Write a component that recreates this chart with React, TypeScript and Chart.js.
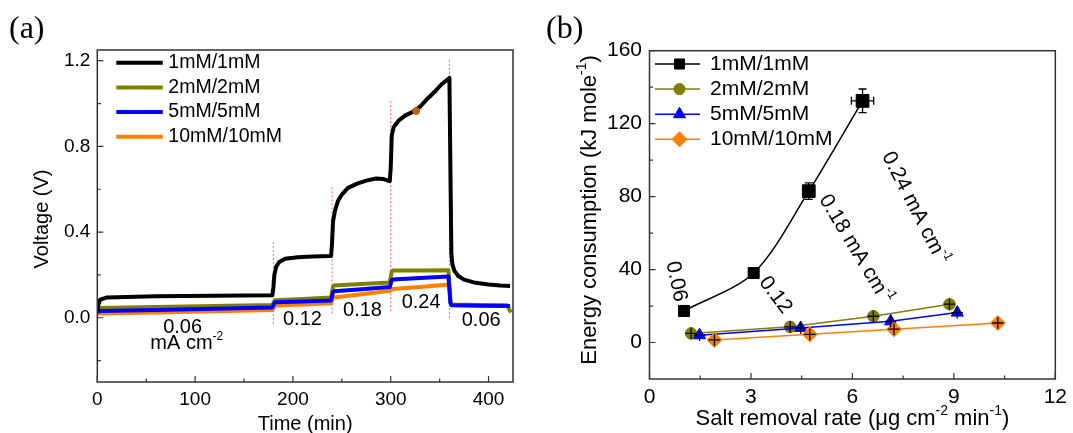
import React, { useEffect, useRef } from 'react';
import { Chart, registerables } from 'chart.js';

Chart.register(...registerables);

const SANS = "'Liberation Sans', Arial, Helvetica, sans-serif";
const SERIF = "'Liberation Serif', 'Times New Roman', Times, serif";

// ---------------- Panel (a): voltage vs time ----------------
const seriesLabels = ['1mM/1mM', '2mM/2mM', '5mM/5mM', '10mM/10mM'];

const timeBlack = [0, 1, 3, 10, 60, 120, 179, 180, 181, 183, 186, 192, 205, 220, 239, 240, 241, 243, 246, 250, 256, 265, 275, 285, 292, 299, 300, 301, 303, 308, 315, 322, 330, 338, 346, 352, 359, 360, 361, 362, 363, 365, 369, 375, 385, 400, 412, 422];
const voltBlack = [0.03, 0.06, 0.085, 0.095, 0.1, 0.103, 0.105, 0.14, 0.2, 0.24, 0.26, 0.275, 0.282, 0.286, 0.288, 0.35, 0.45, 0.5, 0.545, 0.575, 0.605, 0.625, 0.64, 0.65, 0.648, 0.638, 0.7, 0.85, 0.89, 0.92, 0.945, 0.96, 0.985, 1.025, 1.06, 1.09, 1.115, 1.12, 0.7, 0.3, 0.25, 0.22, 0.195, 0.178, 0.165, 0.155, 0.15, 0.148];

const timeOlive = [0, 2, 60, 120, 179, 180, 181, 182, 210, 239, 240, 241, 242, 270, 299, 300, 301, 302, 330, 359, 360, 361, 362, 390, 419, 421, 423];
const voltOlive = [0.035, 0.045, 0.05, 0.055, 0.06, 0.07, 0.078, 0.082, 0.088, 0.095, 0.12, 0.145, 0.15, 0.158, 0.165, 0.19, 0.215, 0.22, 0.221, 0.222, 0.15, 0.08, 0.062, 0.06, 0.058, 0.04, 0.025];

const timeBlue = [0, 2, 60, 120, 179, 180, 181, 182, 210, 239, 240, 241, 242, 270, 299, 300, 301, 302, 330, 359, 360, 361, 362, 390, 422];
const voltBlue = [0.025, 0.032, 0.036, 0.042, 0.048, 0.058, 0.068, 0.072, 0.076, 0.081, 0.1, 0.118, 0.124, 0.133, 0.143, 0.16, 0.175, 0.178, 0.185, 0.192, 0.13, 0.07, 0.058, 0.056, 0.055];

const timeOrange = [0, 60, 120, 179, 180, 181, 182, 210, 239, 240, 241, 242, 270, 299, 300, 301, 302, 330, 359];
const voltOrange = [0.02, 0.025, 0.03, 0.036, 0.045, 0.053, 0.057, 0.062, 0.068, 0.08, 0.09, 0.095, 0.11, 0.126, 0.129, 0.132, 0.134, 0.143, 0.155];

const guideTimes = [180, 240, 300, 360];
const guideLow = [-0.03, 0.02, 0.03, 0.0];
const guideHigh = [0.36, 0.61, 1.02, 1.21];

const dotTime = [326];
const dotVolt = [0.965];

const xTicksA = [0, 100, 200, 300, 400];
const xMinorA = [50, 150, 250, 350];
const yTicksA = [0, 0.4, 0.8, 1.2];
const yMinorA = [-0.2, 0.2, 0.6, 1.0];

const currentLabelsA = ['0.06', '0.12', '0.18', '0.24', '0.06'];
const currentTimeA = [87.2, 209.7, 271.1, 331.1, 392.5];
const currentVoltA = [-0.044, -0.007, 0.034, 0.073, -0.014];
const unitTimeA = 91.5;
const unitVoltA = -0.1215;

// ---------------- Panel (b): energy vs salt removal rate ----------------
const rate1 = [1.02, 3.08, 4.71, 6.3];
const energy1 = [17.3, 38.1, 83.0, 132.5];
const rateErr1 = [0.08, 0.08, 0.15, 0.33];
const energyErr1 = [1.5, 1.5, 4.5, 6.5];

const rate2 = [1.23, 4.16, 6.62, 8.87];
const energy2 = [5.0, 8.6, 14.4, 21.0];
const rateErr2 = [0.17, 0.17, 0.17, 0.17];
const energyErr2 = [3.2, 3.2, 3.2, 3.2];

const rate5 = [1.48, 4.47, 7.13, 9.1];
const energy5 = [4.0, 8.0, 11.6, 16.4];
const rateErr5 = [0.17, 0.17, 0.17, 0.17];
const energyErr5 = [3.2, 3.2, 3.2, 3.2];

const rate10 = [1.92, 4.74, 7.23, 10.3];
const energy10 = [1.4, 4.5, 7.3, 10.7];
const rateErr10 = [0.17, 0.17, 0.17, 0.17];
const energyErr10 = [3.2, 3.2, 3.2, 3.2];

const xTicksB = [0, 3, 6, 9, 12];
const xMinorB = [1.5, 4.5, 7.5, 10.5];
const yTicksB = [0, 40, 80, 120, 160];
const yMinorB = [20, 60, 100, 140];

const densityLabelsB = ['0.06', '0.12', '0.18 mA cm', '0.24 mA cm'];
const densitySupB = ['', '', '-1', '-1'];
const densityRateB = [0.79, 3.72, 6.09, 7.85];
const densityEnergyB = [33.5, 26, 51.1, 73.6];
const densityAngleB = [78, 53, 59, 63];

// ---------------- styles ----------------
const COLORS = ['#000000', '#808000', '#0000ff', '#ff8000'];
const MARKERS = ['rect', 'circle', 'triangle', 'rectRot'];
const LEGEND_RADII = [7.1, 5.6, 7, 7.5];

const pts = (xs: number[], ys: number[]) => xs.map((x, i) => ({ x, y: ys[i] }));

type Seg = { t: string; sup?: boolean };

function drawRich(ctx: CanvasRenderingContext2D, segs: Seg[], x: number, y: number, size: number, opts: { rot?: number; align?: 'left' | 'center'; family?: string } = {}) {
  const family = opts.family || SANS;
  const supSize = Math.round(size * 0.62);
  ctx.save();
  ctx.translate(x, y);
  if (opts.rot) ctx.rotate(opts.rot);
  ctx.textBaseline = 'middle';
  ctx.textAlign = 'left';
  ctx.fillStyle = '#000';
  const widths = segs.map((s) => {
    ctx.font = `${s.sup ? supSize : size}px ${family}`;
    return ctx.measureText(s.t).width;
  });
  const total = widths.reduce((a, b) => a + b, 0);
  let cx = opts.align === 'left' ? 0 : -total / 2;
  segs.forEach((s, i) => {
    ctx.font = `${s.sup ? supSize : size}px ${family}`;
    ctx.fillText(s.t, cx, s.sup ? -size * 0.36 : 0);
    cx += widths[i];
  });
  ctx.restore();
}

function drawFrame(chart: any, xMaj: number[], xMin: number[], yMaj: number[], yMin: number[]) {
  const { ctx, chartArea: a, scales } = chart;
  const x = scales.x;
  const y = scales.y;
  ctx.save();
  ctx.strokeStyle = '#333';
  ctx.lineWidth = 1.5;
  ctx.strokeRect(a.left, a.top, a.right - a.left, a.bottom - a.top);
  ctx.lineWidth = 1.2;
  ctx.beginPath();
  xMaj.forEach((v) => { const p = x.getPixelForValue(v); ctx.moveTo(p, a.bottom); ctx.lineTo(p, a.bottom - 6); });
  xMin.forEach((v) => { const p = x.getPixelForValue(v); ctx.moveTo(p, a.bottom); ctx.lineTo(p, a.bottom - 3.5); });
  yMaj.forEach((v) => { const p = y.getPixelForValue(v); ctx.moveTo(a.left, p); ctx.lineTo(a.left + 6, p); });
  yMin.forEach((v) => { const p = y.getPixelForValue(v); ctx.moveTo(a.left, p); ctx.lineTo(a.left + 3.5, p); });
  ctx.stroke();
  ctx.restore();
}

function drawMarker(ctx: CanvasRenderingContext2D, style: string, x: number, y: number, r: number, color: string) {
  ctx.save();
  ctx.fillStyle = color;
  ctx.strokeStyle = color;
  ctx.lineWidth = 1;
  ctx.beginPath();
  if (style === 'rect') {
    const s = r * Math.SQRT1_2;
    ctx.rect(x - s, y - s, 2 * s, 2 * s);
  } else if (style === 'circle') {
    ctx.arc(x, y, r, 0, Math.PI * 2);
  } else if (style === 'triangle') {
    ctx.moveTo(x, y - r);
    ctx.lineTo(x + 0.866 * r, y + 0.5 * r);
    ctx.lineTo(x - 0.866 * r, y + 0.5 * r);
  } else {
    ctx.moveTo(x - r, y);
    ctx.lineTo(x, y - r);
    ctx.lineTo(x + r, y);
    ctx.lineTo(x, y + r);
  }
  ctx.closePath();
  ctx.fill();
  ctx.stroke();
  ctx.restore();
}

const panelAPlugin = {
  id: 'panelA',
  afterDatasetsDraw(chart: any) {
    drawFrame(chart, xTicksA, xMinorA, yTicksA, yMinorA);
  },
  afterDraw(chart: any) {
    const { ctx, chartArea: a, scales } = chart;
    const x = scales.x;
    const y = scales.y;
    seriesLabels.forEach((lab, i) => {
      const ly = a.top + 12.7 + i * 24.7;
      ctx.save();
      ctx.strokeStyle = COLORS[i];
      ctx.lineWidth = 4;
      ctx.beginPath();
      ctx.moveTo(a.left + 19, ly);
      ctx.lineTo(a.left + 65.5, ly);
      ctx.stroke();
      ctx.restore();
      drawRich(ctx, [{ t: lab }], a.left + 71, ly, 19.5, { align: 'left' });
    });
    currentLabelsA.forEach((t, i) => {
      drawRich(ctx, [{ t }], x.getPixelForValue(currentTimeA[i]), y.getPixelForValue(currentVoltA[i]), 20);
    });
    drawRich(ctx, [{ t: 'mA cm' }, { t: '-2', sup: true }], x.getPixelForValue(unitTimeA), y.getPixelForValue(unitVoltA), 20);
    drawRich(ctx, [{ t: 'Voltage (V)' }], 42.5, (a.top + a.bottom) / 2 + 3, 20, { rot: -Math.PI / 2 });
    drawRich(ctx, [{ t: 'Time (min)' }], (a.left + a.right) / 2, 424, 20);
    ctx.save();
    ctx.font = `32px ${SERIF}`;
    ctx.fillStyle = '#000';
    ctx.textBaseline = 'alphabetic';
    ctx.textAlign = 'left';
    ctx.fillText('(a)', 9, 38);
    ctx.restore();
  },
};

const ratesB = [rate1, rate2, rate5, rate10];
const energiesB = [energy1, energy2, energy5, energy10];
const rateErrsB = [rateErr1, rateErr2, rateErr5, rateErr10];
const energyErrsB = [energyErr1, energyErr2, energyErr5, energyErr10];

const panelBPlugin = {
  id: 'panelB',
  afterDatasetsDraw(chart: any) {
    const { ctx, scales } = chart;
    const x = scales.x;
    const y = scales.y;
    ctx.save();
    ctx.strokeStyle = '#000';
    ctx.lineWidth = 1.3;
    ctx.beginPath();
    ratesB.forEach((xs, i) => {
      xs.forEach((xv, j) => {
        const yv = energiesB[i][j];
        const px = x.getPixelForValue(xv);
        const py = y.getPixelForValue(yv);
        const x1 = x.getPixelForValue(xv - rateErrsB[i][j]);
        const x2 = x.getPixelForValue(xv + rateErrsB[i][j]);
        const y1 = y.getPixelForValue(yv - energyErrsB[i][j]);
        const y2 = y.getPixelForValue(yv + energyErrsB[i][j]);
        ctx.moveTo(x1, py); ctx.lineTo(x2, py);
        ctx.moveTo(px, y1); ctx.lineTo(px, y2);
        if (x2 - x1 > 16) {
          ctx.moveTo(x1, py - 4); ctx.lineTo(x1, py + 4);
          ctx.moveTo(x2, py - 4); ctx.lineTo(x2, py + 4);
        }
        if (y1 - y2 > 16) {
          ctx.moveTo(px - 4, y1); ctx.lineTo(px + 4, y1);
          ctx.moveTo(px - 4, y2); ctx.lineTo(px + 4, y2);
        }
      });
    });
    ctx.stroke();
    ctx.restore();
    drawFrame(chart, xTicksB, xMinorB, yTicksB, yMinorB);
  },
  afterDraw(chart: any) {
    const { ctx, chartArea: a, scales } = chart;
    const x = scales.x;
    const y = scales.y;
    seriesLabels.forEach((lab, i) => {
      const ly = a.top + 13.3 + i * 25.1;
      ctx.save();
      ctx.strokeStyle = COLORS[i];
      ctx.lineWidth = 1.5;
      ctx.beginPath();
      ctx.moveTo(a.left + 5.5, ly);
      ctx.lineTo(a.left + 50.5, ly);
      ctx.stroke();
      ctx.restore();
      drawMarker(ctx, MARKERS[i], a.left + 30, ly, LEGEND_RADII[i], COLORS[i]);
      drawRich(ctx, [{ t: lab }], a.left + 60.5, ly, 21, { align: 'left' });
    });
    densityLabelsB.forEach((t, i) => {
      const segs: Seg[] = [{ t }];
      if (densitySupB[i]) segs.push({ t: densitySupB[i], sup: true });
      drawRich(ctx, segs, x.getPixelForValue(densityRateB[i]), y.getPixelForValue(densityEnergyB[i]), 21, { rot: (densityAngleB[i] * Math.PI) / 180 });
    });
    drawRich(ctx, [{ t: 'Energy consumption (kJ mole' }, { t: '-1', sup: true }, { t: ')' }], 50, 210, 22, { rot: -Math.PI / 2 });
    drawRich(ctx, [{ t: 'Salt removal rate (μg cm' }, { t: '-2', sup: true }, { t: ' min' }, { t: '-1', sup: true }, { t: ')' }], (a.left + a.right) / 2, 419, 22);
    ctx.save();
    ctx.font = `32px ${SERIF}`;
    ctx.fillStyle = '#000';
    ctx.textBaseline = 'alphabetic';
    ctx.textAlign = 'left';
    ctx.fillText('(b)', 6, 38);
    ctx.restore();
  },
};

function axisOpts(min: number, max: number, ticks: number[], size: number, pad: number, fmt: (v: number) => string, fit: (s: any) => void) {
  return {
    type: 'linear',
    min,
    max,
    grid: { display: false, drawTicks: false },
    border: { display: false },
    afterBuildTicks: (s: any) => { s.ticks = ticks.map((v) => ({ value: v })); },
    afterFit: fit,
    ticks: {
      padding: pad,
      maxRotation: 0,
      minRotation: 0,
      autoSkip: false,
      color: '#000',
      font: { family: SANS, size },
      callback: (v: any) => fmt(Number(v)),
    },
  };
}

function buildChartA(canvas: HTMLCanvasElement) {
  const lineDs = (label: string, xs: number[], ys: number[], color: string, order: number) => ({
    label,
    data: pts(xs, ys),
    borderColor: color,
    backgroundColor: color,
    borderWidth: 4,
    pointRadius: 0,
    tension: 0,
    borderJoinStyle: 'round',
    order,
  });
  const guidePoints = guideTimes.flatMap((t, i) => [
    { x: t, y: guideLow[i] },
    { x: t, y: guideHigh[i] },
    { x: t, y: null },
  ]);
  return new Chart(canvas, {
    type: 'line',
    data: {
      datasets: [
        lineDs(seriesLabels[0], timeBlack, voltBlack, COLORS[0], 1),
        lineDs(seriesLabels[1], timeOlive, voltOlive, COLORS[1], 4),
        lineDs(seriesLabels[2], timeBlue, voltBlue, COLORS[2], 2),
        lineDs(seriesLabels[3], timeOrange, voltOrange, COLORS[3], 3),
        {
          label: 'steps',
          data: guidePoints as any,
          borderColor: 'rgba(255,70,70,0.85)',
          borderWidth: 1,
          borderDash: [2, 2],
          pointRadius: 0,
          spanGaps: false,
          order: 5,
        },
        {
          label: 'mark',
          data: pts(dotTime, dotVolt),
          showLine: false,
          pointRadius: 3.5,
          pointBackgroundColor: '#c0620f',
          pointBorderColor: '#c0620f',
          order: 0,
        },
      ] as any,
    },
    options: {
      responsive: false,
      animation: false,
      events: [],
      layout: { padding: { left: 0, right: 27, top: 50, bottom: 0 } },
      plugins: { legend: { display: false }, tooltip: { enabled: false } },
      scales: {
        x: axisOpts(0, 425, xTicksA, 19, 6, (v) => String(v), (s: any) => { s.height = 51; }),
        y: axisOpts(-0.3, 1.25, yTicksA, 19, 7, (v) => v.toFixed(1), (s: any) => { s.width = 97.3; }),
      },
    } as any,
    plugins: [panelAPlugin],
  });
}

function buildChartB(canvas: HTMLCanvasElement) {
  const radii = [[7.8, 7.8, 9, 9], 5.8, 7, 7.5];
  const datasets = ratesB.map((xs, i) => ({
    label: seriesLabels[i],
    data: pts(xs, energiesB[i]),
    borderColor: COLORS[i],
    backgroundColor: COLORS[i],
    borderWidth: 1.5,
    pointStyle: MARKERS[i],
    pointRadius: radii[i],
    pointBackgroundColor: COLORS[i],
    pointBorderColor: COLORS[i],
    pointBorderWidth: 1,
    tension: i === 0 ? 0.3 : 0,
    order: [0, 3, 2, 1][i],
  }));
  return new Chart(canvas, {
    type: 'line',
    data: { datasets: datasets as any },
    options: {
      responsive: false,
      animation: false,
      events: [],
      layout: { padding: { left: 0, right: 13, top: 50.7, bottom: 0 } },
      plugins: { legend: { display: false }, tooltip: { enabled: false } },
      scales: {
        x: axisOpts(0, 12, xTicksB, 21, 6, (v) => String(v), (s: any) => { s.height = 54; }),
        y: axisOpts(-20, 160, yTicksB, 21, 7.5, (v) => String(v), (s: any) => { s.width = 109.5; }),
      },
    } as any,
    plugins: [panelBPlugin],
  });
}

export default function App() {
  const refA = useRef<HTMLCanvasElement>(null);
  const refB = useRef<HTMLCanvasElement>(null);
  useEffect(() => {
    const ca = buildChartA(refA.current as HTMLCanvasElement);
    const cb = buildChartB(refB.current as HTMLCanvasElement);
    return () => {
      ca.destroy();
      cb.destroy();
    };
  }, []);
  return (
    <div style={{ position: 'fixed', left: 0, top: 0, width: 1073, height: 433, background: '#fff', overflow: 'hidden' }}>
      <canvas ref={refA} width={540} height={433} style={{ position: 'absolute', left: 0, top: 0, width: 540, height: 433 }} />
      <canvas ref={refB} width={533} height={433} style={{ position: 'absolute', left: 540, top: 0, width: 533, height: 433 }} />
    </div>
  );
}
